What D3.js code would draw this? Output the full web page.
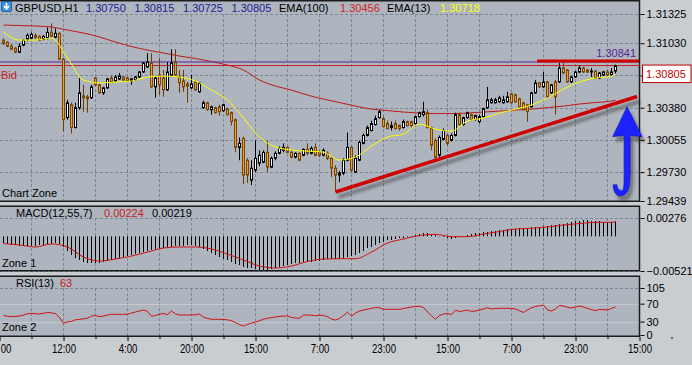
<!DOCTYPE html>
<html>
<head>
<meta charset="utf-8">
<title>GBPUSD H1</title>
<script src="https://cdn.jsdelivr.net/npm/d3@7"></script>
<style>
  html, body { margin: 0; padding: 0; background: #c9cdd2; overflow: hidden; }
  svg { display: block; font-family: "Liberation Sans", Arial, sans-serif; font-size: 11px; }
</style>
</head>
<body>
<svg id="chart" width="692" height="365"></svg>
<script>
// ---- candles (H1 bars, oldest first) ----
const opens = [
  1.3106,1.3104,1.3100,1.3098,1.3094,1.3101,1.3107,1.3108,1.3111,1.3110,
  1.3107,1.3108,1.3114,1.3109,1.3113,1.3087,1.3028,1.3041,1.3018,1.3038,
  1.3050,1.3049,1.3048,1.3068,1.3061,1.3053,1.3058,1.3068,1.3065,1.3067,
  1.3069,1.3068,1.3065,1.3066,1.3069,1.3074,1.3079,1.3083,1.3059,1.3071,
  1.3068,1.3056,1.3071,1.3084,1.3069,1.3065,1.3062,1.3058,1.3064,1.3054,
  1.3038,1.3043,1.3036,1.3038,1.3039,1.3035,1.3037,1.3033,1.3026,1.2998,
  1.3007,1.2985,1.2965,1.2975,1.2982,1.2983,1.2993,1.2978,1.2987,1.2992,
  1.2995,1.2998,1.2993,1.2988,1.2992,1.2990,1.2996,1.2992,1.2998,1.2993,
  1.2990,1.2992,1.2987,1.2977,1.2970,1.2972,1.2985,1.2998,1.2973,1.2985,
  1.3002,1.3010,1.3015,1.3021,1.3028,1.3027,1.3022,1.3018,1.3022,1.3020,
  1.3018,1.3024,1.3024,1.3022,1.3029,1.3031,1.3033,1.3018,1.3005,1.2990,
  1.3006,1.3010,1.3005,1.3010,1.3031,1.3021,1.3028,1.3031,1.3026,1.3024,
  1.3029,1.3038,1.3043,1.3043,1.3044,1.3043,1.3044,1.3052,1.3051,1.3047,
  1.3043,1.3041,1.3039,1.3053,1.3063,1.3059,1.3064,1.3053,1.3064,1.3064,
  1.3078,1.3076,1.3064,1.3069,1.3074,1.3078,1.3076,1.3074,1.3075,1.3068,
  1.3071,1.3074,1.3071,1.30750
];
const highs = [
  1.3108,1.3105,1.3102,1.3099,1.3103,1.3107,1.3113,1.3114,1.3113,1.3111,
  1.3111,1.3119,1.3123,1.3118,1.3114,1.3088,1.3046,1.3043,1.3043,1.3068,
  1.3061,1.3051,1.3061,1.3069,1.3062,1.3059,1.3068,1.3070,1.3071,1.3073,
  1.3070,1.3069,1.3068,1.3070,1.3075,1.3084,1.3093,1.3093,1.3069,1.3088,
  1.3076,1.3084,1.3097,1.3097,1.3076,1.3076,1.3064,1.3071,1.3065,1.3064,
  1.3045,1.3044,1.3040,1.3039,1.3041,1.3042,1.3038,1.3034,1.3027,1.3008,
  1.3009,1.2987,1.2985,1.3005,1.2995,1.2995,1.3005,1.2989,1.2994,1.2999,
  1.3002,1.2999,1.2995,1.2993,1.2993,1.2997,1.3002,1.2999,1.3002,1.2995,
  1.2997,1.2994,1.2988,1.2980,1.2974,1.2987,1.3013,1.2999,1.2990,1.3005,
  1.3012,1.3020,1.3025,1.3030,1.3036,1.3029,1.3025,1.3024,1.3025,1.3021,
  1.3026,1.3025,1.3025,1.3030,1.3034,1.3044,1.3036,1.3019,1.3007,1.3010,
  1.3017,1.3012,1.3012,1.3033,1.3033,1.3029,1.3034,1.3032,1.3031,1.3031,
  1.3038,1.3059,1.3048,1.3048,1.3050,1.3050,1.3054,1.3053,1.3052,1.3048,
  1.3044,1.3042,1.3054,1.3066,1.3064,1.3074,1.3065,1.3062,1.3066,1.3083,
  1.3083,1.3077,1.3070,1.3075,1.3081,1.3079,1.3077,1.3078,1.3076,1.3074,
  1.3075,1.3076,1.3078,1.30815
];
const lows = [
  1.3101,1.3099,1.3096,1.3093,1.3093,1.3100,1.3105,1.3107,1.3107,1.3105,
  1.3106,1.3107,1.3109,1.3108,1.3086,1.3014,1.3026,1.3012,1.3017,1.3036,
  1.3034,1.3033,1.3047,1.3060,1.3052,1.3051,1.3057,1.3063,1.3064,1.3066,
  1.3065,1.3064,1.3061,1.3065,1.3068,1.3073,1.3078,1.3058,1.3048,1.3051,
  1.3049,1.3055,1.3070,1.3070,1.3053,1.3054,1.3043,1.3057,1.3055,1.3053,
  1.3037,1.3035,1.3031,1.3032,1.3030,1.3034,1.3030,1.3020,1.2993,1.2985,
  1.2961,1.2962,1.2960,1.2973,1.2979,1.2982,1.2973,1.2977,1.2985,1.2991,
  1.2993,1.2992,1.2987,1.2987,1.2984,1.2989,1.2990,1.2991,1.2989,1.2988,
  1.2989,1.2985,1.2968,1.2953,1.2963,1.2970,1.2984,1.2973,1.2972,1.2984,
  1.3001,1.3009,1.3014,1.3020,1.3027,1.3018,1.3016,1.3015,1.3016,1.3015,
  1.3017,1.3019,1.3018,1.3021,1.3028,1.3029,1.3017,1.2995,1.2985,1.2988,
  1.3005,1.3000,1.3004,1.3009,1.3020,1.3020,1.3027,1.3025,1.3025,1.3022,
  1.3028,1.3037,1.3042,1.3042,1.3043,1.3042,1.3043,1.3042,1.3043,1.3038,
  1.3035,1.3024,1.3038,1.3052,1.3058,1.3058,1.3048,1.3052,1.3031,1.3063,
  1.3072,1.3063,1.3063,1.3068,1.3073,1.3073,1.3073,1.3069,1.3067,1.3067,
  1.3070,1.3070,1.3070,1.30725
];
const closes = [
  1.3103,1.3100,1.3097,1.3094,1.3100,1.3106,1.3111,1.3112,1.3109,1.3106,
  1.3110,1.3114,1.3110,1.3113,1.3087,1.3026,1.3043,1.3018,1.3038,1.3053,
  1.3048,1.3047,1.3059,1.3061,1.3053,1.3058,1.3067,1.3064,1.3069,1.3070,
  1.3066,1.3065,1.3067,1.3069,1.3074,1.3083,1.3084,1.3059,1.3068,1.3061,
  1.3056,1.3074,1.3083,1.3071,1.3063,1.3059,1.3060,1.3062,1.3056,1.3063,
  1.3043,1.3036,1.3039,1.3033,1.3034,1.3041,1.3031,1.3024,1.2998,1.3002,
  1.2970,1.2970,1.2977,1.2987,1.2990,1.2993,1.2978,1.2987,1.2992,1.2997,
  1.2998,1.2993,1.2988,1.2992,1.2985,1.2996,1.2992,1.2997,1.2990,1.2990,
  1.2995,1.2987,1.2977,1.2970,1.2972,1.2985,1.2998,1.2975,1.2987,1.3003,
  1.3010,1.3018,1.3022,1.3027,1.3034,1.3019,1.3017,1.3020,1.3017,1.3017,
  1.3024,1.3020,1.3020,1.3029,1.3033,1.3034,1.3018,1.3000,1.2988,1.3008,
  1.3015,1.3002,1.3010,1.3031,1.3021,1.3028,1.3033,1.3026,1.3030,1.3029,
  1.3037,1.3046,1.3046,1.3046,1.3048,1.3046,1.3049,1.3043,1.3044,1.3039,
  1.3036,1.3034,1.3053,1.3063,1.3059,1.3064,1.3049,1.3061,1.3049,1.3078,
  1.3073,1.3064,1.3069,1.3074,1.3078,1.3074,1.3074,1.3075,1.3068,1.3073,
  1.3074,1.3071,1.3074,1.30805
];

// ---- moving averages, read every 4th bar ----
const emaBars = [0,4,8,12,16,20,24,28,32,36,40,44,48,52,56,60,64,68,72,76,
  80,84,88,92,96,100,104,108,112,116,120,124,128,132,136,140,144,148,152,153];
const ema100 = [
  1.31214,1.31209,1.31204,1.31194,1.31163,1.31133,1.31093,1.31042,1.30997,1.30961,
  1.30931,1.30901,1.30876,1.30845,1.30810,1.30760,1.30659,1.30598,1.30558,1.30507,
  1.30467,1.30432,1.30396,1.30366,1.30351,1.30336,1.30326,1.30321,1.30321,1.30326,
  1.30336,1.30346,1.30356,1.30366,1.30381,1.30396,1.30417,1.30432,1.30447,1.30456
];
const ema13 = [
  1.31143,1.31062,1.31062,1.31083,1.30881,1.30659,1.30629,1.30639,1.30649,1.30689,
  1.30699,1.30689,1.30649,1.30558,1.30457,1.30275,1.30084,1.29983,1.29953,1.29942,
  1.29932,1.29852,1.29882,1.29993,1.30084,1.30114,1.30215,1.30164,1.30144,1.30245,
  1.30275,1.30326,1.30366,1.30407,1.30477,1.30568,1.30639,1.30679,1.30699,1.30718
];

// ---- MACD(12,55,7): main per bar, signal at emaBars ----
const macdMain = [
  -0.00100,-0.00115,-0.00130,-0.00130,-0.00145,-0.00145,-0.00145,-0.00145,-0.00145,-0.00130,
  -0.00130,-0.00115,-0.00115,-0.00100,-0.00115,-0.00160,-0.00221,-0.00281,-0.00326,-0.00356,
  -0.00386,-0.00401,-0.00401,-0.00401,-0.00401,-0.00386,-0.00371,-0.00356,-0.00341,-0.00326,
  -0.00311,-0.00296,-0.00281,-0.00266,-0.00251,-0.00236,-0.00221,-0.00206,-0.00190,-0.00175,
  -0.00175,-0.00160,-0.00160,-0.00145,-0.00145,-0.00145,-0.00130,-0.00130,-0.00145,-0.00160,
  -0.00190,-0.00221,-0.00251,-0.00281,-0.00311,-0.00341,-0.00356,-0.00386,-0.00416,-0.00431,
  -0.00461,-0.00476,-0.00476,-0.00491,-0.00506,-0.00506,-0.00506,-0.00491,-0.00476,-0.00461,
  -0.00446,-0.00431,-0.00416,-0.00401,-0.00401,-0.00386,-0.00386,-0.00386,-0.00371,-0.00371,
  -0.00356,-0.00341,-0.00341,-0.00341,-0.00341,-0.00326,-0.00311,-0.00296,-0.00281,-0.00251,
  -0.00221,-0.00175,-0.00160,-0.00130,-0.00100,-0.00085,-0.00055,-0.00055,-0.00040,-0.00025,
  -0.00025,-0.00010,-0.00010,0.00020,0.00035,0.00050,0.00050,0.00035,0.00020,0.00005,
  -0.00010,-0.00025,-0.00040,-0.00025,-0.00010,0.00005,0.00020,0.00035,0.00050,0.00050,
  0.00065,0.00065,0.00080,0.00080,0.00095,0.00095,0.00110,0.00110,0.00110,0.00125,
  0.00125,0.00125,0.00140,0.00140,0.00140,0.00155,0.00155,0.00170,0.00170,0.00185,
  0.00185,0.00200,0.00216,0.00231,0.00231,0.00246,0.00246,0.00231,0.00231,0.00231,
  0.00216,0.00216,0.00216,0.00224
];
const macdSignal = [
  -0.00108,-0.00130,-0.00160,-0.00115,-0.00160,-0.00311,-0.00371,-0.00341,-0.00296,-0.00236,
  -0.00175,-0.00160,-0.00160,-0.00190,-0.00266,-0.00356,-0.00446,-0.00476,-0.00446,-0.00378,
  -0.00341,-0.00336,-0.00336,-0.00236,-0.00100,-0.00040,0.00013,0.00031,-0.00005,-0.00005,
  0.00035,0.00073,0.00111,0.00121,0.00141,0.00171,0.00193,0.00211,0.00211,0.00219
];

// ---- RSI(13) per bar ----
const rsi = [
  43.6,41.8,41.1,41.8,42.4,44.7,47.4,48.3,47.6,46.9,
  48.7,50.0,49.6,47.8,39.1,26.1,29.5,30.2,34.0,34.9,
  36.2,37.5,42.4,43.6,41.1,42.4,44.7,46.2,46.2,46.2,
  46.2,46.2,49.1,51.4,53.6,55.9,52.7,41.8,43.6,46.5,
  48.0,45.4,53.6,46.9,44.7,44.7,44.7,44.7,45.1,46.9,
  39.5,36.9,35.1,35.1,35.1,34.4,34.0,31.9,27.9,23.0,
  20.1,23.5,26.8,29.0,31.9,35.3,37.3,38.9,40.4,41.6,
  42.4,42.4,39.1,38.0,37.5,44.7,44.7,44.2,42.9,44.2,
  43.6,40.9,35.7,33.5,36.9,43.6,50.7,41.8,49.1,53.6,
  55.9,57.6,59.4,61.4,60.8,57.4,57.4,57.4,57.4,57.4,
  59.2,61.0,62.6,63.7,64.3,61.4,51.6,42.9,35.1,43.6,
  46.9,48.0,45.8,55.4,52.5,54.1,55.6,52.5,53.8,55.9,
  58.1,60.8,58.1,59.2,59.6,59.6,59.6,59.2,58.1,54.3,
  50.3,56.3,60.8,63.7,65.5,67.0,55.9,53.6,58.1,65.9,
  64.8,61.9,60.3,62.6,64.6,62.6,59.4,56.7,54.5,57.2,
  56.7,55.9,59.4,62.6
];

// ---- axes ----
// first label is only partly on screen in the original, "00" is what shows
const timeBars = [-1, 15, 31, 47, 63, 79, 95, 111, 127, 143, 159];
const timeLabels = ["00","12:00","4:00","20:00","15:00","7:00","23:00","15:00","7:00","23:00","15:00"];
const priceTicks = [1.31325, 1.31030, 1.30705, 1.30380, 1.30055, 1.29730, 1.29439];
const macdTicks = [0.00276, -0.00521];
const rsiTicks = [105, 70, 30, 0];
const rsiLevels = [70, 30];

// ---- header & objects ----
const symbol = "GBPUSD,H1";
const lastOHLC = ["1.30750", "1.30815", "1.30725", "1.30805"];
const bidPrice = 1.30805;
const markPrice = 1.30841;
const resistance = { fromBar: 133.4, price: 1.30851 };
const trendline = [{ bar: 83, price: 1.29530 }, { bar: 158.4, price: 1.30493 }];
const arrowTip = { bar: 155.9, price: 1.30390 };

// ---- layout ----
const XR = 639.5;
const panelBg = "#aeb5be";
const gridCol = "#7b8797";
const panels = [
  { top: 0, bottom: 202, gridTop: 14 },
  { top: 205.5, bottom: 271.5, gridTop: 218 },
  { top: 275.5, bottom: 337, gridTop: 288 }
];

const svg = d3.select("#chart");
const defs = svg.append("defs");
defs.append("clipPath").attr("id", "clipMain")
  .append("rect").attr("x", 0).attr("y", 0).attr("width", XR).attr("height", 202);
defs.append("filter").attr("id", "shadow")
  .attr("x", "-10%").attr("y", "-50%").attr("width", "130%").attr("height", "250%")
  .append("feDropShadow").attr("dx", 3).attr("dy", 5).attr("stdDeviation", 1.6)
  .attr("flood-color", "#222").attr("flood-opacity", 0.45);

const x = d3.scaleLinear().domain([0, 153]).range([3.5, 615.5]);
const y = d3.scaleLinear().domain([1.29439, 1.31325]).range([201, 14]);
const yM = d3.scaleLinear().domain([-0.00521, 0.00276]).range([271, 218]);
const yR = d3.scaleLinear().domain([0, 105]).range([335, 288]);

// panel backgrounds
panels.forEach(p => {
  svg.append("rect").attr("x", -2).attr("y", p.top)
    .attr("width", XR + 2).attr("height", p.bottom - p.top).attr("fill", panelBg);
});

// vertical grid
const gridXs = timeBars.flatMap(b => [b, b + 8]).filter(b => b > 0 && b < 158);
panels.forEach(p => {
  svg.append("g").selectAll("line").data(gridXs).join("line")
    .attr("x1", d => x(d)).attr("x2", d => x(d))
    .attr("y1", p.gridTop).attr("y2", p.bottom)
    .attr("stroke", gridCol).attr("stroke-dasharray", "3,2");
});

// horizontal grid
svg.append("g").selectAll("line").data(priceTicks.slice(0, -1)).join("line")
  .attr("x1", 0).attr("x2", XR).attr("y1", d => Math.round(y(d)) + 0.5).attr("y2", d => Math.round(y(d)) + 0.5)
  .attr("stroke", gridCol).attr("stroke-dasharray", "3,2");
svg.append("g").selectAll("line").data(macdTicks).join("line")
  .attr("x1", 0).attr("x2", XR).attr("y1", d => Math.round(yM(d)) + 0.5).attr("y2", d => Math.round(yM(d)) + 0.5)
  .attr("stroke", gridCol).attr("stroke-dasharray", "3,2");
svg.append("g").selectAll("line").data([105]).join("line")
  .attr("x1", 0).attr("x2", XR).attr("y1", d => Math.round(yR(d)) + 0.5).attr("y2", d => Math.round(yR(d)) + 0.5)
  .attr("stroke", gridCol).attr("stroke-dasharray", "3,2");
svg.append("g").selectAll("line").data(rsiLevels).join("line")
  .attr("x1", 0).attr("x2", XR).attr("y1", d => Math.round(yR(d)) + 0.5).attr("y2", d => Math.round(yR(d)) + 0.5)
  .attr("stroke", "#c3c8cf");

// ---- main chart ----
const gm = svg.append("g").attr("clip-path", "url(#clipMain)");

// EMA 100
gm.append("path").datum(emaBars.map((b, i) => [b, ema100[i]]))
  .attr("fill", "none").attr("stroke", "#c01818").attr("stroke-width", 1)
  .attr("d", d3.line().x(d => x(d[0])).y(d => y(d[1])).curve(d3.curveMonotoneX));

// horizontal price lines
gm.append("line").attr("x1", 0).attr("x2", XR)
  .attr("y1", y(markPrice)).attr("y2", y(markPrice))
  .attr("stroke", "#5b1f9a").attr("stroke-width", 1);
gm.append("line").attr("x1", 0).attr("x2", XR)
  .attr("y1", y(bidPrice)).attr("y2", y(bidPrice))
  .attr("stroke", "#c81e1e").attr("stroke-width", 1);

// candles
const bars = d3.range(opens.length);
const isUp = i => closes[i] >= opens[i];
gm.append("g").selectAll("line").data(bars).join("line")
  .attr("x1", i => x(i)).attr("x2", i => x(i))
  .attr("y1", i => y(highs[i])).attr("y2", i => y(lows[i]))
  .attr("stroke", i => isUp(i) ? "#000" : "#6e3c00");
gm.append("g").selectAll("rect").data(bars).join("rect")
  .attr("x", i => x(i) - 1).attr("width", 2)
  .attr("y", i => y(Math.max(opens[i], closes[i])))
  .attr("height", i => Math.max(1, Math.abs(y(opens[i]) - y(closes[i]))))
  .attr("fill", i => isUp(i) ? "#ffffff" : "#f0a028")
  .attr("stroke", i => isUp(i) ? "#000" : "#7a4600")
  .attr("stroke-width", 1);

// EMA 13
gm.append("path").datum(emaBars.map((b, i) => [b, ema13[i]]))
  .attr("fill", "none").attr("stroke", "#ffff00").attr("stroke-width", 1)
  .attr("d", d3.line().x(d => x(d[0])).y(d => y(d[1])).curve(d3.curveMonotoneX));

// drawn lines
gm.append("line")
  .attr("x1", x(resistance.fromBar)).attr("x2", XR)
  .attr("y1", y(resistance.price)).attr("y2", y(resistance.price))
  .attr("stroke", "#d40000").attr("stroke-width", 3);
svg.append("line")
  .attr("x1", x(trendline[0].bar)).attr("y1", y(trendline[0].price))
  .attr("x2", x(trendline[1].bar)).attr("y2", y(trendline[1].price))
  .attr("stroke", "#cc0000").attr("stroke-width", 3.5).attr("stroke-linecap", "butt")
  .attr("filter", "url(#shadow)");

// ---- MACD ----
svg.append("g").selectAll("line").data(bars).join("line")
  .attr("x1", i => x(i)).attr("x2", i => x(i))
  .attr("y1", yM(0)).attr("y2", i => yM(macdMain[i]))
  .attr("stroke", "#000");
svg.append("path").datum(emaBars.map((b, i) => [b, macdSignal[i]]))
  .attr("fill", "none").attr("stroke", "#d01010")
  .attr("d", d3.line().x(d => x(d[0])).y(d => yM(d[1])).curve(d3.curveMonotoneX));

// ---- RSI ----
svg.append("path").datum(bars)
  .attr("fill", "none").attr("stroke", "#d01010")
  .attr("d", d3.line().x(i => x(i)).y(i => yR(rsi[i])));

// ---- panel borders ----
panels.forEach(p => {
  svg.append("rect").attr("x", -2).attr("y", p.top + 0.75)
    .attr("width", XR + 2).attr("height", p.bottom - p.top - 1.5)
    .attr("fill", "none").attr("stroke", "#1c1c1c").attr("stroke-width", 1.5);
});

// ---- right axes ----
function styleAxis(g) {
  g.select(".domain").remove();
  g.selectAll(".tick line").attr("stroke", "#000");
  g.selectAll(".tick text").attr("fill", "#000")
    .style("font-family", '"Liberation Sans", Arial, sans-serif').style("font-size", "11px");
}
svg.append("g").attr("transform", `translate(${XR + 1},0)`)
  .call(d3.axisRight(y).tickValues(priceTicks).tickFormat(d3.format(".5f")).tickSize(4).tickPadding(2))
  .call(styleAxis);
svg.append("g").attr("transform", `translate(${XR + 1},0)`)
  .call(d3.axisRight(yM).tickValues(macdTicks).tickFormat(d3.format(".5f")).tickSize(4).tickPadding(2))
  .call(styleAxis);
svg.append("g").attr("transform", `translate(${XR + 1},0)`)
  .call(d3.axisRight(yR).tickValues(rsiTicks).tickFormat(d3.format("d")).tickSize(4).tickPadding(2))
  .call(styleAxis);

// bottom time axis
const gx = svg.append("g").attr("transform", "translate(0,337)")
  .call(d3.axisBottom(x).tickValues(timeBars).tickFormat((d, i) => timeLabels[i]).tickSize(4).tickPadding(3))
  .call(styleAxis);
gx.selectAll(".tick text").style("font-size", "12px").attr("transform", "scale(0.8,1)");
gx.selectAll(".tick text").filter((d, i) => i === 0)
  .attr("text-anchor", "start").attr("x", 1);
svg.append("g").attr("transform", "translate(0,337)")
  .call(d3.axisBottom(x).tickValues(timeBars.map(b => b + 8)).tickFormat("").tickSize(2))
  .call(styleAxis);

// current price box
const by = y(bidPrice);
svg.append("rect").attr("x", 642.5).attr("y", by - 0.5).attr("width", 48.5).attr("height", 17.5)
  .attr("fill", "#ffffff").attr("stroke", "#c00000");
svg.append("text").attr("x", 646).attr("y", by + 12.5).attr("fill", "#c00000").text(bidPrice.toFixed(5));
svg.append("text").attr("x", 636).attr("y", y(markPrice) - 5).attr("text-anchor", "end")
  .attr("fill", "#5b1f9a").text(markPrice.toFixed(5));

// blue arrow annotation
const ax = x(arrowTip.bar), ay = y(arrowTip.price);
svg.append("path")
  .attr("transform", `translate(${ax},${ay})`)
  .attr("d", "M0,0 L15,30 L3,28.5 L3,66 C3,80 1,88 -5,89 C-10,90 -14,86 -14,78 L-10,78 C-10,82 -8,84 -5.5,84 C-3,84 -3,78 -3,66 L-3,28.5 L-14.5,30 Z")
  .attr("fill", "#1a24ff").attr("stroke", "#0b13b0").attr("stroke-width", 0.6)
  .attr("filter", "url(#shadow)");

// ---- labels ----
function label(xp, yp, txt, col) {
  return svg.append("text").attr("x", xp).attr("y", yp).attr("fill", col || "#000").text(txt);
}
// header icon
svg.append("rect").attr("x", 1.5).attr("y", 1.5).attr("width", 10).attr("height", 10).attr("rx", 1.5)
  .attr("fill", "#3d8fe0").attr("stroke", "#1d5ea8");
svg.append("path").attr("d", "M6.5,3 L6.5,8 M4,6 L6.5,9 L9,6").attr("stroke", "#fff")
  .attr("stroke-width", 1.6).attr("fill", "none");

label(15, 12, symbol);
[86, 134.5, 183, 231.5].forEach((xp, i) => label(xp, 12, lastOHLC[i], "#1c1c96"));
label(279, 12, "EMA(100)");
label(340, 12, ema100[ema100.length - 1].toFixed(5), "#d42424");
label(387, 12, "EMA(13)");
label(440, 12, ema13[ema13.length - 1].toFixed(5), "#ffff00");

label(1, 79, "Bid", "#c81e1e");
label(2, 197, "Chart Zone");

label(16, 217, "MACD(12,55,7)");
label(104, 217, macdMain[macdMain.length - 1].toFixed(5), "#cc1a1a");
label(152, 217, macdSignal[macdSignal.length - 1].toFixed(5));
label(2, 267, "Zone 1");

label(16, 287, "RSI(13)");
label(60, 287, Math.round(rsi[rsi.length - 1]), "#cc1a1a");
label(2, 331, "Zone 2");
</script>
</body>
</html>
